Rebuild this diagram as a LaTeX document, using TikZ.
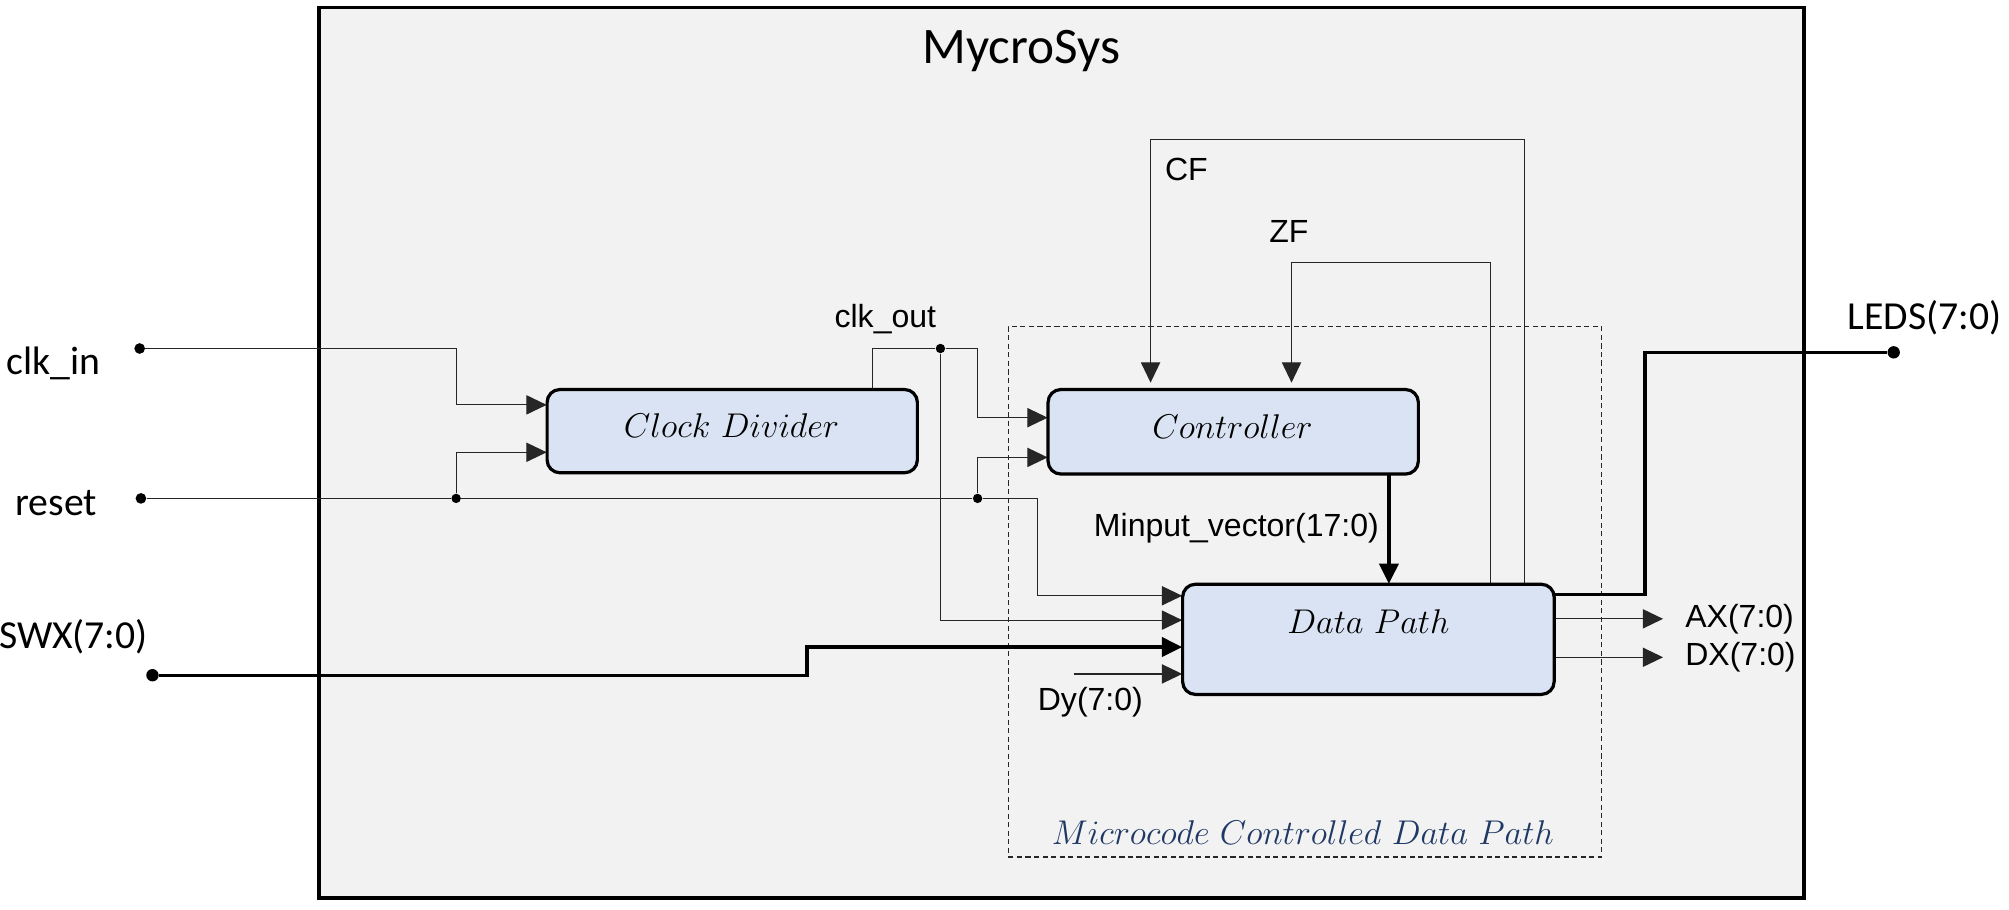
\documentclass[tikz,border=0pt]{standalone}
\usepackage{fontspec}
\newfontfamily\carlito{Carlito}
\newfontfamily\arialf{Liberation Sans}
\usetikzlibrary{arrows.meta,calc}
\definecolor{boxgray}{HTML}{F2F2F2}
\definecolor{blockblue}{HTML}{DAE3F3}
\definecolor{navy}{HTML}{1F3864}
\newcommand{\blocklabel}[1]{\scalebox{0.93}{$#1$}}
\begin{document}
\begin{tikzpicture}[x=0.6pt,y=-0.6pt,
  block/.style={draw=black, line width=1.5pt, fill=blockblue, rounded corners=6pt, inner sep=0pt},
  btext/.style={inner sep=0pt, font=\fontsize{17.28}{20}\selectfont},
  bigtext/.style={inner sep=0pt, font=\carlito\fontsize{18.6}{22}\selectfont},
  smalltext/.style={inner sep=0pt, font=\arialf\fontsize{15}{18}\selectfont},
  wire/.style={line width=0.55pt, draw=black!85},
  bus/.style={line width=1.6pt, draw=black},
  arr/.style={-{Triangle[length=9.5pt,width=9pt]}},
  dotn/.style={circle, fill=black, inner sep=0pt, minimum size=5pt},
  jdot/.style={circle, fill=black, inner sep=0pt, minimum size=4.4pt}]
\useasboundingbox (0,0) rectangle (1568,710);
% outer system box
\node[draw=black, line width=1.6pt, fill=boxgray, inner sep=0pt,
      minimum width=695.4pt, minimum height=417pt] (sys) at (828.5,353.5) {};
\node[inner sep=0pt, font=\carlito\fontsize{24}{28}\selectfont] (title) at (797,40) {MycroSys};
% dashed sub-system box
\node[draw=black!85, line width=0.7pt, dash pattern=on 2.4pt off 1.6pt, inner sep=0pt,
      minimum width=277.8pt, minimum height=248.4pt] (mcdp) at (1018.5,462) {};
\node[btext, text=navy] (mcdplabel) at (1017,650) {\blocklabel{Microcode\ Controlled\ Data\ Path}};
% block anchors
\path (571.5,336.5) node[minimum width=173.4pt, minimum height=39pt, inner sep=0pt] (cd) {};
\path (962.5,337) node[minimum width=173.4pt, minimum height=39.6pt, inner sep=0pt] (ctl) {};
\path (1068,499) node[minimum width=174pt, minimum height=51.6pt, inner sep=0pt] (dp) {};
% terminals
\node[dotn] (clkin) at (109,272) {};
\node[dotn] (rst) at (110,389) {};
\node[dotn, minimum size=5.8pt] (swx) at (119,527) {};
\node[dotn, minimum size=5.8pt] (leds) at (1478,275) {};
\node[bigtext] (clkinlabel) at (42,284) {clk\_in};
\node[bigtext] (rstlabel) at (44,393) {reset};
\node[bigtext, anchor=west] (swxlabel) at (-1,497) {SWX(7:0)};
\node[bigtext] (ledslabel) at (1502,248) {LEDS(7:0)};
% junctions
\node[jdot] (j1) at (356,389) {};
\node[jdot] (j2) at (763,389) {};
\node[jdot] (j3) at (734,272) {};
% clk_in
\draw[wire, arr] (clkin) -- (356,272) |- ($(cd.west)+(0,-20.5)$);
% reset
\draw[wire] (rst) -- (j1) -- (j2);
\draw[wire, arr] (j1) |- ($(cd.west)+(0,16.5)$);
\draw[wire, arr] (j2) |- ($(ctl.west)+(0,20)$);
\draw[wire, arr] (j2) -- (810,389) |- ($(dp.west)+(0,-34)$);
% clk_out
\draw[wire] ($(cd.north)+(109.5,0)$) |- (j3);
\draw[wire, arr] (j3) -- (763,272) |- ($(ctl.west)+(0,-11)$);
\draw[wire, arr] (j3) |- ($(dp.west)+(0,-15)$);
\node[smalltext] (clkoutlabel) at (691,249) {clk\_out};
% SWX bus
\draw[bus, arr] (swx) -- (630,527) |- ($(dp.west)+(0,6)$);
% Dy
\coordinate (dys) at (838,526);
\draw[wire, arr] (dys) -- ($(dp.west)+(0,27)$);
\node[smalltext] (dylabel) at (851,548) {Dy(7:0)};
% Minput vector
\coordinate (mv) at ($(ctl.south)+(121.5,0)$);
\draw[bus, arr] (mv) -- (mv |- dp.north);
\node[smalltext] (mvlabel) at (965,412) {Minput\_vector(17:0)};
% CF
\coordinate (cfs) at ($(dp.north)+(122,0)$);
\draw[wire, arr] (cfs) -- (1190,109) -| ($(ctl.north)+(-64.5,-5)$);
\node[smalltext] (cflabel) at (926,132) {CF};
% ZF
\coordinate (zfs) at ($(dp.north)+(95,0)$);
\draw[wire, arr] (zfs) -- (1163,205) -| ($(ctl.north)+(45.5,-5)$);
\node[smalltext] (zflabel) at (1006,181) {ZF};
% LEDS
\draw[bus] ($(dp.east)+(0,-35)$) -- (1284,464) |- (leds);
% AX, DX
\coordinate (axe) at (1298,483);
\coordinate (dxe) at (1298,513);
\draw[wire, arr] ($(dp.east)+(0,-16)$) -- (axe);
\draw[wire, arr] ($(dp.east)+(0,14)$) -- (dxe);
\node[smalltext, anchor=west] (axlabel) at (1315,483) {AX(7:0)};
\node[smalltext, anchor=west] (dxlabel) at (1315,513) {DX(7:0)};
% blocks on top
\node[block, minimum width=173.4pt, minimum height=39pt] (cdbox) at (cd) {};
\node[btext] (cdtext) at (571,332) {\blocklabel{Clock\ Divider}};
\node[block, minimum width=173.4pt, minimum height=39.6pt] (ctlbox) at (ctl) {};
\node[btext] (ctltext) at (962,333) {\blocklabel{Controller}};
\node[block, minimum width=174pt, minimum height=51.6pt] (dpbox) at (dp) {};
\node[btext] (dptext) at (1068,485) {\blocklabel{Data\ Path}};
\end{tikzpicture}
\end{document}
